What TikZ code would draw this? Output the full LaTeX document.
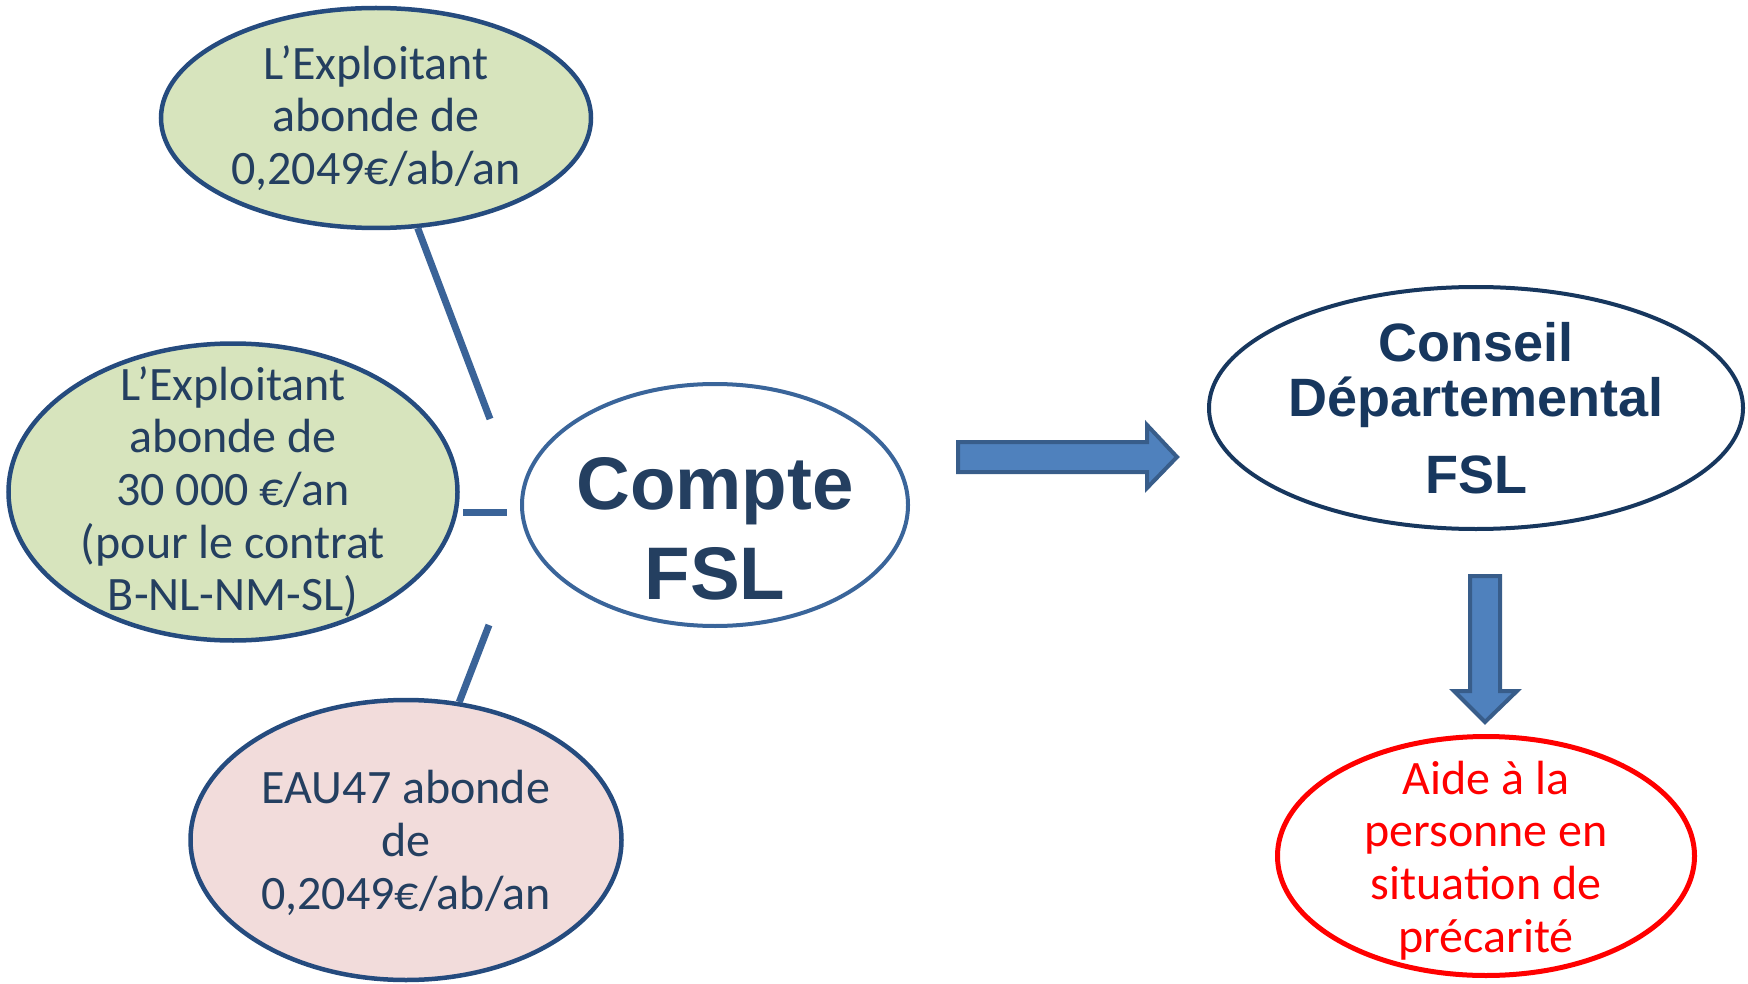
\documentclass[tikz,border=0pt]{standalone}
\usepackage{fontspec}
\setmainfont{Carlito}
\newfontfamily\arialfont{Liberation Sans}
\usetikzlibrary{shapes.geometric}
\definecolor{navy}{HTML}{243F60}
\definecolor{ellblue}{HTML}{254B7E}
\definecolor{midblue}{HTML}{3A659A}
\definecolor{darkblue}{HTML}{17375E}
\definecolor{lgreen}{HTML}{D7E4BD}
\definecolor{lpink}{HTML}{F2DCDB}
\definecolor{lineblue}{HTML}{3A6398}
\definecolor{arrfill}{HTML}{4F81BD}
\definecolor{arrdraw}{HTML}{385D8A}
\definecolor{pred}{HTML}{FF0000}
\begin{document}
\begin{tikzpicture}[x=1pt,y=-1pt,
  ell/.style={ellipse, inner sep=-60pt, align=center},
  calib/.style={font=\fontsize{48}{52.7}\selectfont},
  greenell/.style={ell, calib, draw=ellblue, line width=4.5pt, fill=lgreen, text=navy},
  pinkell/.style={ell, calib, draw=ellblue, line width=4.5pt, fill=lpink, text=navy},
  compteell/.style={ell, draw=midblue, line width=4pt, fill=white, text=navy,
    font=\arialfont\bfseries\fontsize{74.5}{90}\selectfont},
  conseilell/.style={ell, draw=darkblue, line width=4pt, fill=white, text=darkblue,
    font=\arialfont\bfseries\fontsize{54}{55}\selectfont},
  redell/.style={ell, calib, draw=pred, line width=5pt, fill=white, text=pred},
  conn/.style={draw=lineblue, line width=7pt},
  bigarrow/.style={fill=arrfill, draw=arrdraw, line width=4pt, line join=miter}
]
\useasboundingbox (0,0) rectangle (1748,984);

% ellipses
\node[greenell, minimum width=430pt, minimum height=220pt] (e1) at (376,118)
  {L’Exploitant\\abonde de\\0,2049€/ab/an};
\node[greenell, minimum width=449pt, minimum height=297pt] (e2) at (233,492)
  {L’Exploitant\\abonde de\\30 000 €/an\\(pour le contrat\\B-NL-NM-SL)};
\node[pinkell, minimum width=431pt, minimum height=280pt] (e3) at (406,840)
  {\rule{0pt}{39pt}EAU47 abonde\\de\\0,2049€/ab/an};
\node[compteell, minimum width=386pt, minimum height=242pt] (compte) at (715,505)
  {\rule{0pt}{99pt}Compte\\FSL};
\node[conseilell, minimum width=534pt, minimum height=242pt] (conseil) at (1476,408)
  {Conseil\\Départemental\\[22pt]FSL};
\node[redell, minimum width=417pt, minimum height=239pt] (aide) at (1486,856)
  {\rule{0pt}{42pt}Aide à la\\personne en\\situation de\\précarité};

% connectors
\coordinate (c1) at (490,419);
\coordinate (m1) at (463,512);
\coordinate (m2) at (507,512);
\coordinate (c3) at (489,625);
\draw[conn] (e1) -- (c1);
\draw[conn] (m1) -- (m2);
\draw[conn] (c3) -- (e3);

% block arrows
\draw[bigarrow] (958,442) -- (1147,442) -- (1147,425) -- (1177,457) -- (1147,488)
  -- (1147,472) -- (958,472) -- cycle;
\draw[bigarrow] (1470,576) -- (1500,576) -- (1500,691) -- (1517,691) -- (1485,722)
  -- (1454,691) -- (1470,691) -- cycle;
\end{tikzpicture}
\end{document}
